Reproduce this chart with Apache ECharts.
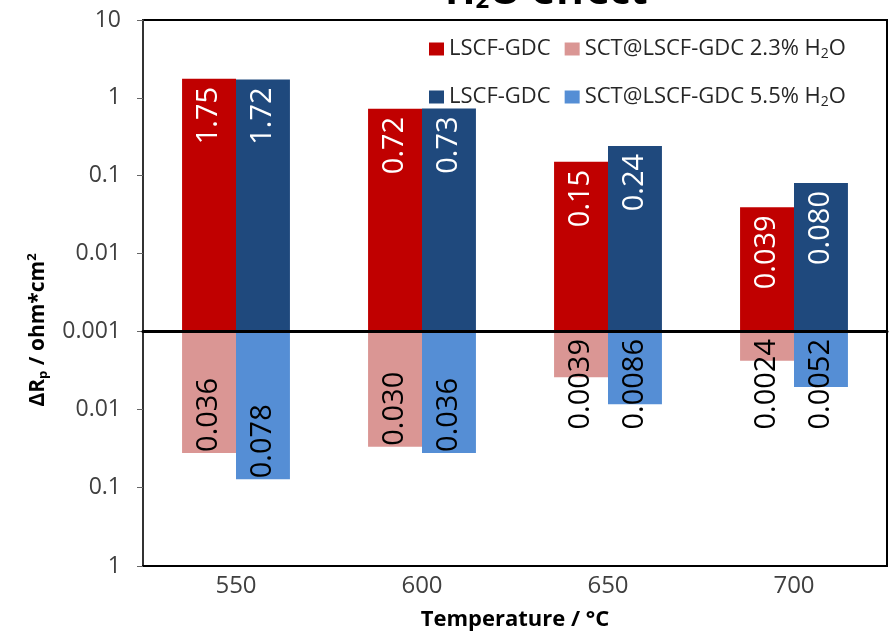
<!DOCTYPE html>
<html>
<head>
<meta charset="utf-8">
<script src="https://cdn.jsdelivr.net/npm/echarts@6/dist/echarts.min.js"></script>
<style>
html,body{margin:0;padding:0;background:#fff;}
#chart{width:891px;height:634px;}
</style>
</head>
<body>
<div id="chart"></div>
<script>
// ---- data ----
const categories = ['550', '600', '650', '700'];
const lscf23 = [1.75, 0.72, 0.15, 0.039];     // LSCF-GDC (2.3% H2O run), red, upward
const lscf55 = [1.72, 0.73, 0.24, 0.080];     // LSCF-GDC (5.5% H2O run), dark blue, upward
const sct23 = [0.036, 0.030, 0.0039, 0.0024]; // SCT@LSCF-GDC 2.3% H2O, pink, downward
const sct55 = [0.078, 0.036, 0.0086, 0.0052]; // SCT@LSCF-GDC 5.5% H2O, light blue, downward
const upperTicks = ['10', '1', '0.1', '0.01', '0.001'];
const lowerTicks = ['0.01', '0.1', '1'];
const labelStrings = {
  lscf23: ['1.75', '0.72', '0.15', '0.039'],
  lscf55: ['1.72', '0.73', '0.24', '0.080'],
  sct23: ['0.036', '0.030', '0.0039', '0.0024'],
  sct55: ['0.078', '0.036', '0.0086', '0.0052']
};
const BASE = 0.001; // both halves of the chart start at 0.001

// log-scale mapping: decades above the 0.001 baseline
const toDec = v => Math.log10(v / BASE);
const fromDec = d => +(BASE * Math.pow(10, d)).toPrecision(1);

const NAME_R = 'LSCF-GDC (2.3% H2O)';
const NAME_P = 'SCT@LSCF-GDC 2.3% H2O';
const NAME_B = 'LSCF-GDC (5.5% H2O)';
const NAME_L = 'SCT@LSCF-GDC 5.5% H2O';

const C_RED = '#C00000', C_PINK = '#DA9694', C_BLUE = '#1F497D', C_LBLUE = '#558ED5';
const FONT = 'Open Sans';
const LFS = 29;

function upperData(vals, strs) {
  return vals.map((v, i) => ({
    value: toDec(v),
    label: {
      show: true, position: 'insideTop', rotate: 90, align: 'right', verticalAlign: 'middle',
      distance: 8, color: '#fff', fontFamily: FONT, fontSize: LFS, formatter: strs[i]
    }
  }));
}
function lowerData(vals, strs) {
  return vals.map((v, i) => {
    const fits = v > 0.01;
    return {
      value: toDec(v),
      label: fits ? {
        show: true, position: 'insideBottom', rotate: 90, align: 'left', verticalAlign: 'middle',
        distance: 1, color: '#000', fontFamily: FONT, fontSize: LFS, formatter: strs[i]
      } : {
        show: true, position: 'insideTop', rotate: 90, align: 'right', verticalAlign: 'middle',
        distance: 8, color: '#000', fontFamily: FONT, fontSize: LFS, formatter: strs[i]
      }
    };
  });
}

const legendFmt = name => {
  if (name === NAME_R || name === NAME_B) return 'LSCF-GDC';
  if (name === NAME_P) return 'SCT@LSCF-GDC 2.3% H{sub|2}O';
  return 'SCT@LSCF-GDC 5.5% H{sub|2}O';
};
const legendText = {
  color: '#262626', fontFamily: FONT, fontSize: 22,
  rich: { sub: { fontFamily: FONT, fontSize: 14, color: '#262626', verticalAlign: 'bottom', padding: [10, 0, 0, 0] } }
};

const chart = echarts.init(document.getElementById('chart'));
const option = {
  animation: false,
  backgroundColor: '#fff',
  graphic: [
    {
      type: 'text', left: 445, top: -27, z: 10,
      style: {
        text: 'H{s|2}O effect', fill: '#000', fontFamily: FONT, fontWeight: 'bold', fontSize: 40,
        rich: { s: { fontFamily: FONT, fontWeight: 'bold', fontSize: 24, verticalAlign: 'bottom', padding: [16, 0, 0, 0] } }
      }
    },
    {
      type: 'text', x: 38, y: 330, rotation: Math.PI / 2, z: 10,
      style: {
        text: 'ΔR{sub|p} / ohm*cm{sup|2}', fill: '#000', fontFamily: FONT, fontWeight: 'bold', fontSize: 21,
        align: 'center', verticalAlign: 'middle',
        rich: {
          sub: { fontFamily: FONT, fontWeight: 'bold', fontSize: 13, padding: [11, 0, 0, 0] },
          sup: { fontFamily: FONT, fontWeight: 'bold', fontSize: 13, padding: [0, 0, 11, 0] }
        }
      }
    }
  ],
  legend: [
    {
      data: [NAME_R, NAME_P], left: 424, top: 33, orient: 'horizontal',
      itemWidth: 15, itemHeight: 13, itemGap: 14, formatter: legendFmt, textStyle: legendText,
      icon: 'rect', selectedMode: false
    },
    {
      data: [NAME_B, NAME_L], left: 424, top: 81, orient: 'horizontal',
      itemWidth: 15, itemHeight: 13, itemGap: 14, formatter: legendFmt, textStyle: legendText,
      icon: 'rect', selectedMode: false
    }
  ],
  grid: [
    { left: 143, right: 4, top: 20, height: 311, show: true, borderColor: '#000', borderWidth: 2, backgroundColor: 'transparent' },
    { left: 143, right: 4, top: 331, height: 235, show: true, borderColor: '#000', borderWidth: 2, backgroundColor: 'transparent' }
  ],
  xAxis: [
    {
      gridIndex: 0, type: 'category', data: categories, position: 'bottom',
      axisLine: { show: true, onZero: false, lineStyle: { color: '#000', width: 3 } },
      axisTick: { show: false }, axisLabel: { show: false }, z: 5
    },
    {
      gridIndex: 1, type: 'category', data: categories, position: 'bottom',
      axisLine: { show: true, onZero: false, lineStyle: { color: '#000', width: 2 } },
      axisTick: { show: false },
      axisLabel: { color: '#404040', fontFamily: FONT, fontSize: 24, margin: 8 },
      name: 'Temperature / °C', nameLocation: 'middle', nameGap: 43,
      nameTextStyle: { color: '#000', fontFamily: FONT, fontWeight: 'bold', fontSize: 22 }
    }
  ],
  yAxis: [
    {
      gridIndex: 0, type: 'value', min: toDec(0.001), max: toDec(10), interval: 1,
      axisLine: { show: true, lineStyle: { color: '#333', width: 2 } },
      axisTick: { show: true, length: 6, lineStyle: { color: '#666' } },
      splitLine: { show: false },
      axisLabel: { color: '#404040', fontFamily: FONT, fontSize: 23, margin: 22,
        formatter: v => { const s = String(fromDec(v)); return upperTicks.includes(s) ? s : ''; } }
    },
    {
      gridIndex: 1, type: 'value', min: toDec(0.001), max: toDec(1), interval: 1, inverse: true,
      axisLine: { show: true, lineStyle: { color: '#333', width: 2 } },
      axisTick: { show: true, length: 6, lineStyle: { color: '#666' } },
      splitLine: { show: false },
      axisLabel: { color: '#404040', fontFamily: FONT, fontSize: 23, margin: 22, showMinLabel: false,
        formatter: v => { const s = String(fromDec(v)); return lowerTicks.includes(s) ? s : ''; } }
    }
  ],
  series: [
    {
      name: NAME_R, type: 'bar', xAxisIndex: 0, yAxisIndex: 0, data: upperData(lscf23, labelStrings.lscf23),
      barGap: '0%', barCategoryGap: '42%', itemStyle: { color: C_RED }
    },
    {
      name: NAME_B, type: 'bar', xAxisIndex: 0, yAxisIndex: 0, data: upperData(lscf55, labelStrings.lscf55),
      barGap: '0%', barCategoryGap: '42%', itemStyle: { color: C_BLUE }
    },
    {
      name: NAME_P, type: 'bar', xAxisIndex: 1, yAxisIndex: 1, data: lowerData(sct23, labelStrings.sct23),
      barGap: '0%', barCategoryGap: '42%', itemStyle: { color: C_PINK }
    },
    {
      name: NAME_L, type: 'bar', xAxisIndex: 1, yAxisIndex: 1, data: lowerData(sct55, labelStrings.sct55),
      barGap: '0%', barCategoryGap: '42%', itemStyle: { color: C_LBLUE }
    }
  ]
};
chart.setOption(option);
</script>
</body>
</html>
